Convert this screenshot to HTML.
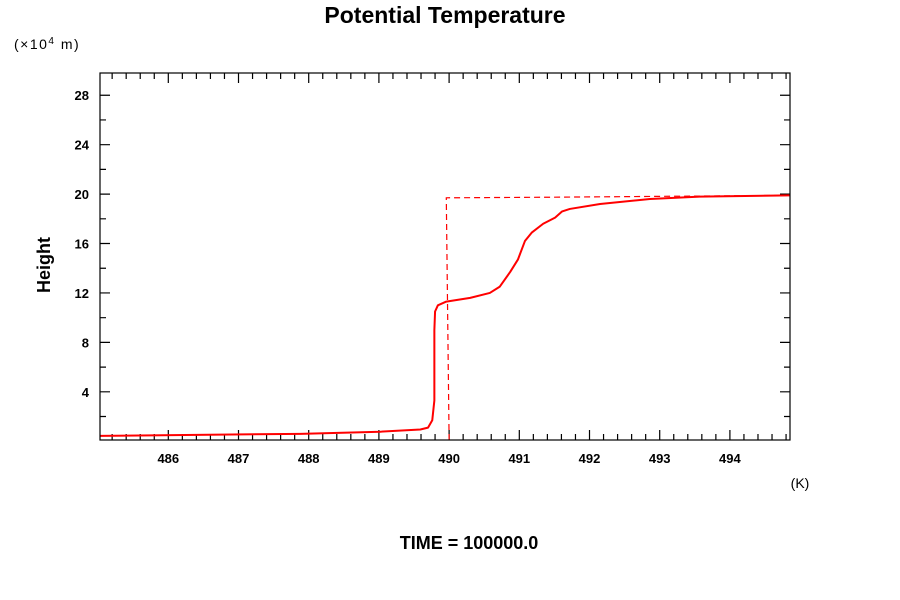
<!DOCTYPE html>
<html><head><meta charset="utf-8"><style>body{margin:0;background:#fff}svg{display:block;font-family:"Liberation Sans",sans-serif}</style></head>
<body>
<svg width="900" height="600" id="chart">
<text x="445" y="23" text-anchor="middle" font-size="23" font-weight="bold">Potential Temperature</text>
<text x="14" y="49" font-size="14" letter-spacing="1.5">(×10<tspan font-size="10" dy="-5">4</tspan><tspan dy="5"> m)</tspan></text>
<text x="50" y="265" transform="rotate(-90 50 265)" text-anchor="middle" font-size="18" font-weight="bold">Height</text>
<text x="800" y="488" text-anchor="middle" font-size="14">(K)</text>
<text x="469" y="549" text-anchor="middle" font-size="18" font-weight="bold">TIME = 100000.0</text>
<g id="axes"></g>
<g id="series"></g>
<rect x="100" y="73" width="690" height="367" fill="none" stroke="#000" stroke-width="1.2"/>
</svg>
<script>
const xTicks=[486,487,488,489,490,491,492,493,494];
const yTicks=[4,8,12,16,20,24,28];
const solidX=[485.03,487.88,489.02,489.59,489.70,489.76,489.79,489.79,489.80,489.84,489.96,490.30,490.58,490.72,490.87,490.98,491.08,491.18,491.34,491.51,491.61,491.72,492.15,492.86,493.57,494.85];
const solidY=[0.43,0.6,0.77,0.95,1.1,1.7,3.3,9.0,10.5,11.0,11.3,11.6,12.0,12.5,13.7,14.7,16.2,16.9,17.6,18.1,18.6,18.8,19.2,19.6,19.8,19.9];
const dashX=[490.0,489.96,491.51,494.85];
const dashY=[0.1,19.7,19.75,19.9];
const X0=485.027,X1=494.856,Y0=0.1,Y1=29.8;
const px=v=>100+(v-X0)/(X1-X0)*690;
const py=v=>440-(v-Y0)/(Y1-Y0)*367;
const NS="http://www.w3.org/2000/svg";
const ax=document.getElementById('axes'),se=document.getElementById('series');
function mk(t,a,p){const e=document.createElementNS(NS,t);for(const k in a)e.setAttribute(k,a[k]);p.appendChild(e);return e;}
let d='';
for(let i=1;485+i*0.2<X1;i++){const v=485+i*0.2;const x=px(v);const maj=i%5===0;const L=maj?10:6;d+=`M${x} 440v${-L}M${x} 73v${L}`;}
for(let v=2;v<Y1;v+=2){const y=py(v);const maj=v%4===0;const L=maj?10:6;d+=`M100 ${y}h${L}M790 ${y}h${-L}`;}
const t=mk('path',{d:d,stroke:'#000','stroke-width':1.2,fill:'none'},ax);


xTicks.forEach(v=>{const e=mk('text',{x:px(v),y:463,'text-anchor':'middle','font-size':13,'font-weight':'bold'},ax);e.textContent=v;

});
yTicks.forEach(v=>{const e=mk('text',{x:89,y:py(v)+5,'text-anchor':'end','font-size':13,'font-weight':'bold'},ax);e.textContent=v;

});
const dp=dashX.map((v,i)=>(i?'L':'M')+px(v)+' '+py(dashY[i])).join('');
const dl=mk('path',{d:dp,stroke:'#f00','stroke-width':1.2,fill:'none','stroke-dasharray':'6,4'},se);


const sp=solidX.map((v,i)=>(i?'L':'M')+px(v)+' '+py(solidY[i])).join('');
const sl=mk('path',{d:sp,stroke:'#f00','stroke-width':2,fill:'none','stroke-linejoin':'round'},se);


</script>
</body></html>
